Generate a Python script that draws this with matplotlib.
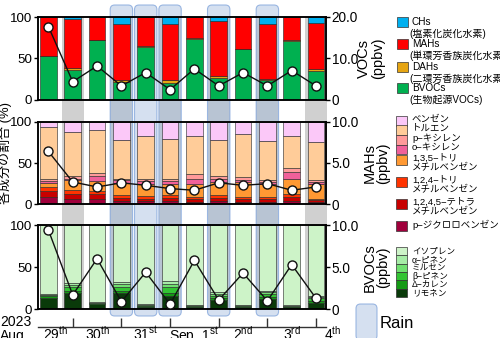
import numpy as np
import matplotlib
matplotlib.use('Agg')
import matplotlib.pyplot as plt
from matplotlib.patches import Rectangle, FancyBboxPatch
from matplotlib.colors import to_rgba

plt.rcParams['font.family'] = ['Liberation Sans', 'Noto Sans CJK JP', 'DejaVu Sans']
plt.rcParams['mathtext.fontset'] = 'custom'
plt.rcParams['mathtext.rm'] = 'Liberation Sans'
plt.rcParams['mathtext.it'] = 'Liberation Sans:italic'
plt.rcParams['mathtext.bf'] = 'Liberation Sans:bold'

# ---------------- data ----------------
night = [0, 1, 0, 1, 0, 1, 0, 1, 0, 1, 0, 1]
rain = [0, 0, 0, 1, 1, 1, 0, 1, 0, 1, 0, 0]

# top panel: composition (%) bottom->top
voc_names = ['BVOCs', 'DAHs', 'MAHs', 'CHs']
bvoc_pct = [53, 36, 72, 22, 64, 21, 74, 27, 61, 24, 71, 35]
dah_pct = [0.5, 2, 0.5, 2.5, 1, 3, 0.5, 2, 1, 1.5, 1.5, 2]
ch_pct = [0, 2, 0, 8, 0, 8, 0, 4.5, 0, 8, 0, 7]
mah_pct = [100 - b - d - c for b, d, c in zip(bvoc_pct, dah_pct, ch_pct)]
voc_total = [17.7, 4.4, 8.2, 3.4, 6.6, 2.5, 7.5, 3.4, 6.6, 3.4, 7.1, 3.4]

# middle panel: MAH composition (%) bottom->top
pdcb = [8.5, 6, 6, 4, 3.5, 4, 3, 4, 3, 3, 4, 3]
temb = [7, 6, 6, 4, 3.5, 4, 3, 4, 3, 3, 4.5, 2]
tmb124 = [5, 5, 4.5, 3, 3, 3, 3, 3, 3, 3, 3.5, 2]
tmb135 = [5, 12, 12, 15, 15, 14, 16, 16, 18, 16, 19, 17]
oxyl = [3, 2, 5.5, 3, 3, 3, 6, 4, 3, 2, 8, 3]
pxyl = [2.5, 3, 4, 2, 3, 2.5, 6, 3, 2.5, 2, 5, 2]
toluene = [62, 54, 52, 47, 52, 49, 46, 44, 52.5, 48, 39, 46]
benzene = [7, 12, 10, 22, 17, 20.5, 17, 22, 15, 23, 17, 25]
mah_total = [6.4, 2.7, 2.1, 2.6, 2.3, 1.9, 1.7, 2.6, 2.3, 2.5, 1.7, 2.1]

# bottom panel: BVOC composition (%) bottom->top
limonene = [13, 19, 6, 19, 3, 16, 3, 11, 3, 12, 2.5, 7]
carene = [3, 3, 1, 3, 1, 3, 1, 2, 1, 3, 1, 3]
bpinene = [1, 4, 0.5, 5, 1, 8, 0.5, 3, 0.5, 3, 0.5, 3]
myrcene = [0.5, 3, 0.5, 3, 0.5, 3, 0.5, 2, 0.5, 2, 0.5, 1.5]
apinene = [1, 2, 0.5, 2, 0.5, 3, 0.5, 2, 0.5, 2, 0.5, 1.5]
isoprene = [100 - a - b - c - d - e for a, b, c, d, e in
            zip(limonene, carene, bpinene, myrcene, apinene)]
bvoc_total = [9.4, 1.7, 6.0, 0.9, 4.4, 0.6, 5.8, 1.1, 4.3, 1.0, 5.3, 1.3]

# legends
top_leg = [('CHs', '(塩素化炭化水素)'), ('MAHs', '(単環芳香族炭化水素)'),
           ('DAHs', '(二環芳香族炭化水素)'), ('BVOCs', '(生物起源VOCs)')]
mid_leg = ['ベンゼン', 'トルエン', 'p−キシレン', 'o−キシレン',
           '1,3,5−トリ\nメチルベンゼン', '1,2,4−トリ\nメチルベンゼン',
           '1,2,4,5−テトラ\nメチルベンゼン', 'p−ジクロロベンゼン']
bot_leg = ['イソプレン', 'α−ピネン', 'ミルセン', 'β−ピネン', 'Δ−カレン', 'リモネン']
date_labels = ['29$^{\\mathrm{th}}$', '30$^{\\mathrm{th}}$', '31$^{\\mathrm{st}}$',
               'Sep. 1$^{\\mathrm{st}}$', '2$^{\\mathrm{nd}}$', '3$^{\\mathrm{rd}}$',
               '4$^{\\mathrm{th}}$']

# colors
c_top = {'BVOCs': '#00b050', 'DAHs': '#e6a512', 'MAHs': '#ff0000', 'CHs': '#00b0f0'}
c_mah = ['#a0003c', '#c80000', '#ff3300', '#ff9933', '#f0609a', '#ff9a9a', '#ffcc99', '#fbc8f8']
c_bv = ['#0a3a0a', '#149a14', '#33c433', '#70e070', '#a6eca6', '#cdf3c8']

# ---------------- figure ----------------
W, H = 500, 338
fig = plt.figure(figsize=(W / 100, H / 100), dpi=100)
L, R = 37.7, 326.0
XLIM = (-0.44, 11.41)


def rect(top, bot):
    return [L / W, 1 - bot / H, (R - L) / W, (bot - top) / H]


def xpix(xd):
    return L + (xd - XLIM[0]) / (XLIM[1] - XLIM[0]) * (R - L)


panels = [(17, 100), (121.7, 204.3), (225, 309.3)]
axes = [fig.add_axes(rect(*p)) for p in panels]
x = np.arange(len(night))
bw = 0.69


def stack(ax, layers, colors):
    bottom = np.zeros(len(x))
    for vals, col in zip(layers, colors):
        vals = np.asarray(vals, float)
        ax.bar(x, vals, bw, bottom=bottom, color=col, edgecolor='#222222', linewidth=0.4)
        bottom += vals


stack(axes[0], [bvoc_pct, dah_pct, mah_pct, ch_pct], [c_top[n] for n in voc_names])
stack(axes[1], [pdcb, temb, tmb124, tmb135, oxyl, pxyl, toluene, benzene], c_mah)
stack(axes[2], [limonene, carene, bpinene, myrcene, apinene, isoprene], c_bv)

rlims = [20, 10, 10]
rticks = [(['0', '10.0', '20.0'], [0, 10, 20]), (['0', '5.0', '10.0'], [0, 5, 10]),
          (['0', '5.0', '10.0'], [0, 5, 10])]
totals = [voc_total, mah_total, bvoc_total]
for ax, rl, (tl, tv), tot in zip(axes, rlims, rticks, totals):
    ax.set_facecolor('none')
    ax.set_xlim(XLIM)
    ax.set_ylim(0, 100)
    ax.set_xticks([])
    ax.set_yticks([0, 50, 100])
    ax.tick_params(axis='y', length=3, width=1, pad=1, labelsize=9.6)
    for s in ax.spines.values():
        s.set_linewidth(1.1)
    axr = ax.twinx()
    axr.set_ylim(0, rl)
    axr.set_yticks(tv)
    axr.set_yticklabels(tl)
    axr.tick_params(axis='y', length=3, width=1, pad=1, labelsize=9.8)
    for s in axr.spines.values():
        s.set_linewidth(1.1)
    axr.plot(x, tot, '-', color='#111111', lw=1.0, marker='o', ms=6.5,
             mfc='white', mec='#111111', mew=1.0, zorder=5, clip_on=False)

# night columns and rain boxes
cw = 0.9
for i in range(len(night)):
    if night[i]:
        x0 = xpix(i - cw / 2)
        x1 = xpix(i + cw / 2)
        fig.add_artist(Rectangle((x0 / W, 1 - 309.3 / H), (x1 - x0) / W, (309.3 - 17) / H,
                                 transform=fig.transFigure, facecolor='#d0d0d0',
                                 edgecolor='none', zorder=-3))
rw = 0.92
for i in range(len(rain)):
    if rain[i]:
        x0 = xpix(i - rw / 2)
        x1 = xpix(i + rw / 2)
        fig.add_artist(FancyBboxPatch((x0 / 100, (H - 316) / 100), (x1 - x0) / 100, (316 - 5) / 100,
                                      boxstyle='round,pad=0,rounding_size=0.045',
                                      transform=fig.dpi_scale_trans,
                                      facecolor=to_rgba('#96b2da', 0.4),
                                      edgecolor=to_rgba('#86a8dc', 0.8), lw=0.8, zorder=-2))

# date axis
axd = fig.add_axes([L / W, 1 - 327 / H, (R - L) / W, 0.0001])
axd.set_facecolor('none')
axd.set_xlim(XLIM)
for s in ['left', 'right', 'top']:
    axd.spines[s].set_visible(False)
axd.spines['bottom'].set_linewidth(1.0)
axd.spines['bottom'].set_color('#333333')
axd.set_yticks([])
tick_pos = [i for i in range(len(night)) if night[i]]
axd.set_xticks(tick_pos)
axd.set_xticklabels([])
axd.tick_params(axis='x', direction='in', length=6.5, width=1, color='#333333')

bounds = [XLIM[0]] + tick_pos + [12.4]
for k, lab in enumerate(date_labels):
    mid = (bounds[k] + bounds[k + 1]) / 2
    fig.text(xpix(mid) / W, 1 - 340 / H, lab, ha='center', va='baseline', fontsize=10)
fig.text(0 / W, 1 - 340 / H, 'Aug.', ha='left', va='baseline', fontsize=10)
fig.text(0 / W, 1 - 326.5 / H, '2023', ha='left', va='baseline', fontsize=10)

# axis labels
fig.text(5.0 / W, 1 - 153 / H, '各成分の割合 (%)', rotation=90, ha='center', va='center', fontsize=9.4)
ylabels = ['VOCs\n(ppbv)', 'MAHs\n(ppbv)', 'BVOCs\n(ppbv)']
ylab_x = [371, 376, 376]
for lab, (t, b), xx in zip(ylabels, panels, ylab_x):
    fig.text(xx / W, 1 - (t + b) / 2 / H, lab, rotation=90, ha='center', va='center',
             fontsize=10.5, linespacing=0.95, multialignment='center')


def patch(xp, yt, h, col, w=11):
    fig.add_artist(Rectangle((xp / W, 1 - (yt + h) / H), w / W, h / H, transform=fig.transFigure,
                             facecolor=col, edgecolor='#333333', lw=0.5))


# top legend
top_cols = [c_top['CHs'], c_top['MAHs'], c_top['DAHs'], c_top['BVOCs']]
top_y = [17, 39, 62, 83]
for (l1, l2), col, yt in zip(top_leg, top_cols, top_y):
    patch(397, yt, 10, col)
    fig.text(412 / W, 1 - (yt + 5) / H, l1, ha='left', va='center', fontsize=7.2)
    fig.text(409 / W, 1 - (yt + 16.5) / H, l2, ha='left', va='center', fontsize=7.2)

# middle legend
mid_cols = c_mah[::-1]
mid_y = [121, 130.5, 140, 149.5, 160, 182, 204, 226]
for lab, col, yc in zip(mid_leg, mid_cols, mid_y):
    patch(396, yc - 5, 9.5, col)
    fig.text(412 / W, 1 - (yc - 6.5) / H, lab, ha='left', va='top', fontsize=6.8, linespacing=1.05)

# bottom legend
bot_cols = c_bv[::-1]
for k, (lab, col) in enumerate(zip(bot_leg, bot_cols)):
    yt = 247 + k * 8.3
    patch(396, yt, 8.3, col)
    fig.text(412 / W, 1 - (yt + 4.6) / H, lab, ha='left', va='center', fontsize=6.2)

# rain legend
fig.add_artist(FancyBboxPatch((356 / 100, (H - 340) / 100), 21 / 100, 36 / 100,
                              boxstyle='round,pad=0,rounding_size=0.045',
                              transform=fig.dpi_scale_trans,
                              facecolor=to_rgba('#96b2da', 0.4),
                              edgecolor=to_rgba('#86a8dc', 0.8), lw=0.8))
fig.text(380 / W, 1 - 323 / H, 'Rain', ha='left', va='center', fontsize=12)

fig.savefig('out.png', dpi=100)
